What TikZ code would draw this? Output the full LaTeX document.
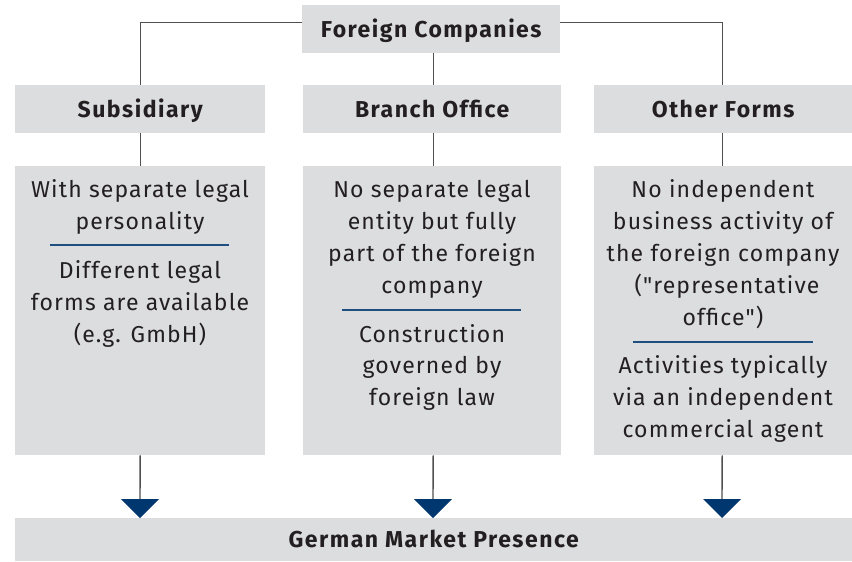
\documentclass[tikz,border=0pt]{standalone}
\usepackage{fontspec}
\newfontfamily\dinfont{Fira Sans}[LetterSpace=5, BoldFeatures={LetterSpace=6.5}]
\begin{document}
\begin{tikzpicture}[x=1pt,y=-1pt,
  box/.style={fill=boxgray, draw=none, inner sep=0pt, anchor=north west},
  head/.style={box, minimum height=48pt, font=\dinfont\fontsize{23}{26}\selectfont\bfseries, text=txtcol, text height=16pt, text depth=0pt},
  txt/.style={inner sep=0pt, anchor=base, text=txtcol, font=\dinfont\fontsize{23}{26}\selectfont},
  conn/.style={draw=linegray, line width=1.4pt},
  sep/.style={draw=sepblue, line width=1.4pt},
  tri/.style={fill=triblue, draw=none}]
\definecolor{boxgray}{HTML}{DCDDDF}
\definecolor{txtcol}{HTML}{231F20}
\definecolor{linegray}{HTML}{505050}
\definecolor{sepblue}{HTML}{1F4E80}
\definecolor{triblue}{HTML}{00376F}
\useasboundingbox (0,0) rectangle (852,562);

% header boxes
\node[head, minimum width=258pt] (fc) at (302,5) {Foreign Companies};
\node[head, minimum width=250pt] (sub) at (15,85) {Subsidiary};
\node[head, minimum width=258pt] (bra) at (303,85) {Branch Office};
\node[head, minimum width=258pt] (oth) at (594,85) {Other Forms};

% content boxes
\node[box, minimum width=250pt, minimum height=289pt] (c1) at (15,166) {};
\node[box, minimum width=258pt, minimum height=289pt] (c2) at (303,166) {};
\node[box, minimum width=258pt, minimum height=289pt] (c3) at (594,166) {};

% bottom box
\node[head, minimum width=837pt, minimum height=43pt] (gm) at (15,518) {German Market Presence};

% connectors top
\draw[conn] ([yshift=7pt]fc.west) -| (sub.north);
\draw[conn] ([yshift=7pt]fc.east) -| ([xshift=-1pt]oth.north);
\draw[conn] ([xshift=2pt]fc.south) -- ([xshift=1pt]bra.north);
\draw[conn] (sub.south) -- (c1.north);
\draw[conn] ([xshift=1pt]bra.south) -- ([xshift=1pt]c2.north);
\draw[conn] ([xshift=-1pt]oth.south) -- ([xshift=-1pt]c3.north);

% triangles
\coordinate (t1) at (140,499);
\coordinate (t2) at (433,499);
\coordinate (t3) at (722,499);
\draw[conn] (c1.south) -- (t1);
\draw[conn] ([xshift=1pt]c2.south) -- (t2);
\draw[conn] ([xshift=-1pt]c3.south) -- (t3);
\foreach \t in {t1,t2,t3}{
  \fill[tri] ([xshift=-19pt]\t) -- ([xshift=19pt]\t) -- ([yshift=-19pt]\t) -- cycle;
}

% left texts
\node[txt] (a1) at (140,197) {With separate legal};
\node[txt] (a2) at (140,229) {personality};
\coordinate (as1) at (50,245);
\coordinate (as2) at (229,245);
\draw[sep] (as1) -- (as2);
\node[txt] (a3) at (140,278) {Different legal};
\node[txt] (a4) at (140,310) {forms are available};
\node[txt] (a5) at (140,342) {(e.g. GmbH)};

% middle texts
\node[txt] (b1) at (432,197) {No separate legal};
\node[txt] (b2) at (432,229) {entity but fully};
\node[txt] (b3) at (432,261) {part of the foreign};
\node[txt] (b4) at (432,293) {company};
\coordinate (bs1) at (342,310);
\coordinate (bs2) at (521,310);
\draw[sep] (bs1) -- (bs2);
\node[txt] (b5) at (432,342) {Construction};
\node[txt] (b6) at (432,373) {governed by};
\node[txt] (b7) at (432,405) {foreign law};

% right texts
\node[txt] (r1) at (723,197) {No independent};
\node[txt] (r2) at (723,229) {business activity of};
\node[txt] (r3) at (723,261) {the foreign company};
\node[txt] (r4) at (727,293) {("representative};
\node[txt] (r5) at (723,325) {office")};
\coordinate (rs1) at (633,342);
\coordinate (rs2) at (813,342);
\draw[sep] (rs1) -- (rs2);
\node[txt] (r6) at (723,373) {Activities typically};
\node[txt] (r7) at (723,405) {via an independent};
\node[txt] (r8) at (723,437) {commercial agent};
\end{tikzpicture}
\end{document}
